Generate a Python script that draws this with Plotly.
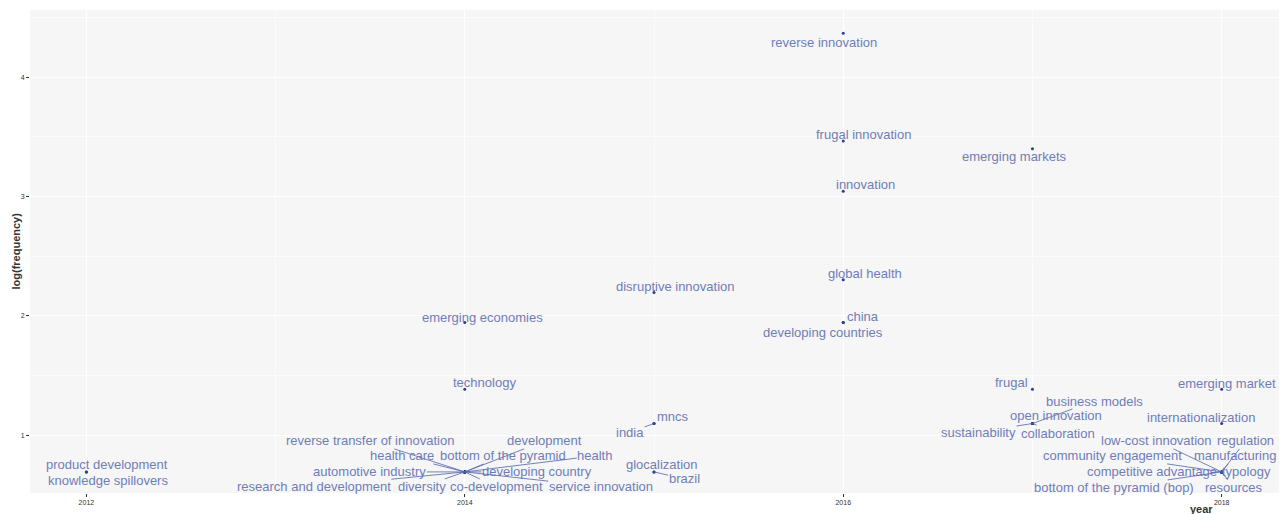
import numpy as np
import plotly.graph_objects as go

# Trend topics: one row per keyword
terms = [
    "product development", "knowledge spillovers",
    "emerging economies", "technology",
    "reverse transfer of innovation", "development", "health care",
    "bottom of the pyramid", "health", "automotive industry",
    "developing country", "research and development", "diversity",
    "co-development", "service innovation",
    "disruptive innovation", "mncs", "india", "glocalization", "brazil",
    "reverse innovation", "frugal innovation", "innovation", "global health",
    "china", "developing countries",
    "emerging markets", "frugal", "business models", "open innovation",
    "sustainability", "collaboration",
    "emerging market", "internationalization", "low-cost innovation",
    "regulation", "community engagement", "manufacturing",
    "competitive advantage", "typology", "bottom of the pyramid (bop)",
    "resources",
]
years = [
    2012, 2012,
    2014, 2014,
    2014, 2014, 2014, 2014, 2014, 2014, 2014, 2014, 2014, 2014, 2014,
    2015, 2015, 2015, 2015, 2015,
    2016, 2016, 2016, 2016, 2016, 2016,
    2017, 2017, 2017, 2017, 2017, 2017,
    2018, 2018, 2018, 2018, 2018, 2018, 2018, 2018, 2018, 2018,
]
frequency = [
    2, 2,
    7, 4,
    2, 2, 2, 2, 2, 2, 2, 2, 2, 2, 2,
    9, 3, 3, 2, 2,
    79, 32, 21, 10, 7, 7,
    30, 4, 3, 3, 3, 3,
    4, 3, 2, 2, 2, 2, 2, 2, 2, 2,
]
log_freq = np.log(np.array(frequency, dtype=float))

# Repelled label placement: pixel offset of each label from its point,
# and whether a connecting segment is drawn
label_offsets = {
    "product development": (21, -7, False),
    "knowledge spillovers": (22, 9, False),
    "emerging economies": (18, -5, False),
    "technology": (20, -7, False),
    "reverse transfer of innovation": (-95, -31, True),
    "development": (80, -31, True),
    "health care": (-63, -16, True),
    "bottom of the pyramid": (38, -16, True),
    "health": (130, -16, True),
    "automotive industry": (-95, 0, True),
    "developing country": (72, 0, True),
    "research and development": (-151, 15, True),
    "diversity": (-43, 15, True),
    "co-development": (32, 15, True),
    "service innovation": (136, 15, True),
    "disruptive innovation": (21, -6, False),
    "mncs": (19, -7.5, False),
    "india": (-24, 8.5, True),
    "glocalization": (8, -7, False),
    "brazil": (30, 7, True),
    "reverse innovation": (-19, 9, False),
    "frugal innovation": (20, -7, False),
    "innovation": (22, -7, False),
    "global health": (22, -6.5, False),
    "china": (20, -6, False),
    "developing countries": (-20, 10, False),
    "emerging markets": (-18, 8, False),
    "frugal": (-21, -7, False),
    "business models": (62, -22.5, True),
    "open innovation": (24, -8.5, False),
    "sustainability": (-54, 8.5, True),
    "collaboration": (26, 9.5, True),
    "emerging market": (5, -6, False),
    "internationalization": (-21, -6.5, False),
    "low-cost innovation": (-65, -31, True),
    "regulation": (24, -31, True),
    "community engagement": (-109, -16, True),
    "manufacturing": (13, -16, True),
    "competitive advantage": (-70, 0, False),
    "typology": (25, 0, True),
    "bottom of the pyramid (bop)": (-108, 16, True),
    "resources": (12, 16, True),
}

label_color = "#6f7db6"
segment_color = "rgba(85,100,172,0.8)"
point_color = "#2a3d8f"
font_family = "Liberation Sans, Arial, sans-serif"

fig = go.Figure()
fig.add_trace(go.Scatter(
    x=years, y=log_freq, mode="markers", text=terms,
    marker=dict(size=3, color=point_color),
    hovertemplate="%{text}<br>year: %{x}<br>log(frequency): %{y:.3f}<extra></extra>",
    showlegend=False,
))

annotations = []
for term, yr, lf in zip(terms, years, log_freq):
    dx, dy, seg = label_offsets[term]
    annotations.append(dict(
        x=yr, y=lf, xref="x", yref="y", text=term,
        showarrow=True, arrowhead=0, arrowwidth=1,
        arrowcolor=segment_color if seg else "rgba(0,0,0,0)",
        ax=dx, ay=dy, standoff=0, borderpad=0,
        font=dict(family=font_family, size=13, color=label_color),
    ))

# Axis titles
annotations.append(dict(
    text="<b>year</b>", x=0.9376, y=-0.0331, xref="paper", yref="paper",
    showarrow=False, xanchor="center", yanchor="middle",
    font=dict(family=font_family, size=11, color="#333333"),
))
annotations.append(dict(
    text="<b>log(frequency)</b>", x=-0.012, y=0.5, xref="paper", yref="paper",
    showarrow=False, textangle=-90, xanchor="center", yanchor="middle",
    font=dict(family=font_family, size=11, color="#333333"),
))

axis_common = dict(
    showgrid=True, gridcolor="#ffffff", gridwidth=1,
    zeroline=False, showline=False,
    ticks="outside", ticklen=3, tickwidth=1, tickcolor="#333333",
    tickfont=dict(family=font_family, size=7, color="#333333"),
)

fig.update_layout(
    width=1282, height=514,
    margin=dict(l=30, r=3, t=10, b=21),
    paper_bgcolor="#ffffff", plot_bgcolor="#f6f6f6",
    xaxis=dict(
        range=[2011.702, 2018.303], tick0=2012, dtick=2,
        minor=dict(dtick=1, tick0=2012, showgrid=True, gridcolor="#fcfcfc", gridwidth=0.6),
        **axis_common,
    ),
    yaxis=dict(
        range=[0.5165, 4.564], tick0=1, dtick=1,
        minor=dict(dtick=0.5, tick0=1, showgrid=True, gridcolor="#fcfcfc", gridwidth=0.6),
        **axis_common,
    ),
    annotations=annotations,
    font=dict(family=font_family),
)

fig.write_html("out.html")
